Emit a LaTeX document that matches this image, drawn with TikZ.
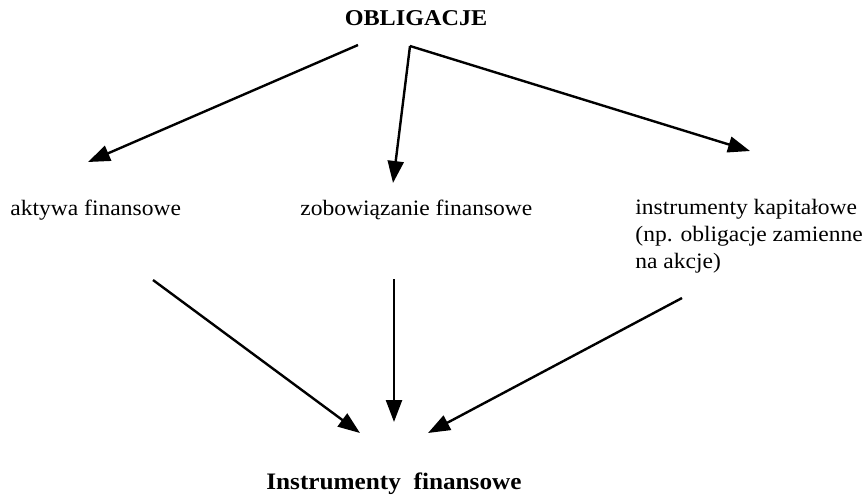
\documentclass[tikz,border=0pt]{standalone}
\usepackage{fontspec}
\setmainfont{Liberation Serif}[FakeStretch=1.07]
\usetikzlibrary{arrows.meta}
\tikzset{
  arr/.style={-{Triangle[length=11pt,width=8pt]}, line width=1.2pt},
  lbl/.style={inner sep=0pt, font=\fontsize{11}{13.5}\selectfont},
}

\begin{document}
\begin{tikzpicture}[x=0.5pt,y=-0.5pt]
\useasboundingbox (0,0) rectangle (866,494);
% teksty
\node[lbl, font=\fontsize{11.3}{13}\selectfont\bfseries, anchor=base] (obl) at (416,25) {OBLIGACJE};
\node[lbl, anchor=base west] (aktywa) at (10,215) {aktywa finansowe};
\node[lbl, anchor=base west] (zobow) at (300,215) {zobowiązanie finansowe};
\node[lbl, anchor=base west, align=left] (kapit) at (635,268) {instrumenty kapitałowe\\(np. obligacje zamienne\\na akcje)};
\node[lbl, font=\fontsize{11.8}{13}\selectfont\bfseries, anchor=base] (instr) at (394,489) {Instrumenty\ \ finansowe};
% punkty koncowe strzalek
\coordinate (obl-l) at (358,45);
\coordinate (obl-r) at (410,46);
\coordinate (aktywa-in) at (88,162);
\coordinate (zobow-in) at (393,183);
\coordinate (kapit-in) at (750,151);
\coordinate (aktywa-out) at (153,280);
\coordinate (zobow-out) at (394,279);
\coordinate (kapit-out) at (682,298);
\coordinate (instr-l) at (360,433);
\coordinate (instr-m) at (394,422);
\coordinate (instr-r) at (428,433);
% strzalki
\draw[arr] (obl-l) -- (aktywa-in);
\draw[arr] (obl-r) -- (zobow-in);
\draw[arr] (obl-r) -- (kapit-in);
\draw[arr] (aktywa-out) -- (instr-l);
\draw[arr] (zobow-out) -- (instr-m);
\draw[arr] (kapit-out) -- (instr-r);
\end{tikzpicture}
\end{document}
